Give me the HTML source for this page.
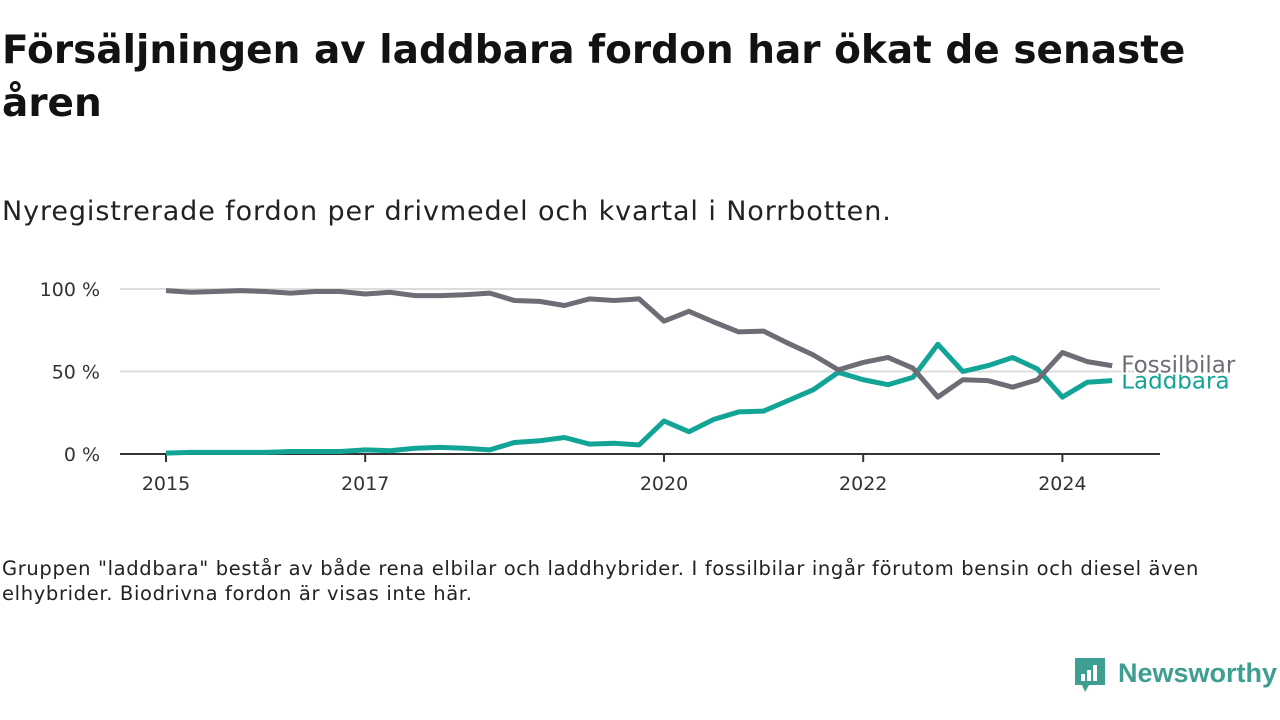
<!DOCTYPE html>
<html><head><meta charset="utf-8"><style>
body{margin:0;width:1280px;height:720px;background:#fff;font-family:"DejaVu Sans",sans-serif;color:#111;overflow:hidden;position:relative}
h1{position:absolute;left:2px;top:24px;margin:0;font-size:39px;line-height:53px;font-weight:bold;color:#121212;width:1210px}
.sub{position:absolute;left:2px;top:196px;font-size:27px;color:#222;letter-spacing:0.9px}
.foot{position:absolute;left:2px;top:556px;font-size:19.5px;line-height:25px;color:#222;width:1235px;letter-spacing:0.65px}
svg{position:absolute;left:0;top:0}
</style></head><body>
<h1>Försäljningen av laddbara fordon har ökat de senaste åren</h1>
<div class="sub">Nyregistrerade fordon per drivmedel och kvartal i Norrbotten.</div>
<svg id="chart" width="1280" height="720"></svg>
<div class="foot">Gruppen "laddbara" består av både rena elbilar och laddhybrider. I fossilbilar ingår förutom bensin och diesel även elhybrider. Biodrivna fordon är visas inte här.</div>
<div style="position:absolute;left:1073px;top:656px;display:flex;align-items:center">
<svg width="34" height="40" style="position:static"><path d="M2 2h30v27H16l-4 7-3-7H2z" fill="#3e9e92"/><rect x="8" y="18" width="4" height="7" fill="#fff"/><rect x="14" y="14" width="4" height="11" fill="#fff"/><rect x="20" y="9" width="4" height="16" fill="#fff"/></svg>
<span style="font-family:'Liberation Sans',sans-serif;font-size:27px;font-weight:bold;color:#3e9e92;margin-left:11px;margin-top:-6px">Newsworthy</span></div>
<script>
const fossil = [99,98,98.5,99,98.5,97.5,98.5,98.5,97,98,96,96,96.5,97.5,93,92.5,90,94,93,94,80.5,86.5,80,74,74.5,67,60,51,55.5,58.5,52,34.5,45,44.5,40.5,45,61.5,56,53.5];
const laddbara = [0.5,1,1,1,1,1.5,1.5,1.5,2.5,2,3.5,4,3.5,2.5,7,8,10,6,6.5,5.5,20,13.5,21,25.5,26,32.5,39,49.5,45,42,46.5,66.5,50,53.5,58.5,51.5,34.5,43.5,44.5];
const yTicks = [0,50,100];
const yTickLabels = ["0 %","50 %","100 %"];
const xTicks = [2015,2017,2020,2022,2024];
const svg = document.getElementById('chart');
const NS='http://www.w3.org/2000/svg';
const FF='DejaVu Sans, sans-serif';
const x = t => 166 + (t-2015)*99.6;
const xi = i => x(2015 + i/4);
const y = v => 454 - v*1.65;
function mk(tag, attrs){const e=document.createElementNS(NS,tag);for(const k in attrs)e.setAttribute(k,attrs[k]);svg.appendChild(e);return e;}
yTicks.forEach((v,i)=>{
  if(v>0){const g=mk('line',{x1:120,x2:1160,y1:y(v),y2:y(v),stroke:'#ddd','stroke-width':2});
  
  }
  const t=mk('text',{x:100,y:y(v)+7,'text-anchor':'end','font-size':19,fill:'#333','font-family':FF});
  t.textContent=yTickLabels[i];
  
  
});
const ax=mk('line',{x1:120,x2:1160,y1:454,y2:454,stroke:'#333','stroke-width':2});


xTicks.forEach(v=>{
  const tk=mk('line',{x1:x(v),x2:x(v),y1:454,y2:462,stroke:'#333','stroke-width':2});
  
  
  const t=mk('text',{x:x(v),y:490,'text-anchor':'middle','font-size':19,fill:'#333','font-family':FF});
  t.textContent=v;
  
  
});
function line(data,color,name){
  const p=mk('polyline',{points:data.map((v,i)=>xi(i)+','+y(v)).join(' '),fill:'none',stroke:color,'stroke-width':5,'stroke-linejoin':'round'});
  
  
}
function label(data,color,name,text,dy,halo){
  const last=data.length-1;
  const a={x:xi(last)+9,y:y(data[last])+dy,'font-size':23,fill:color,'font-family':FF};
  if(halo){a.stroke='#fff';a['stroke-width']=4;a['paint-order']='stroke';}
  const t=mk('text',a);
  t.textContent=text;
  
  
}
line(laddbara,'#12a497','laddbara-line');
line(fossil,'#6e6d75','fossilbilar-line');
label(laddbara,'#12a497','laddbara','Laddbara',8,false);
label(fossil,'#6e6d75','fossilbilar','Fossilbilar',7,true);
</script>
</body></html>
